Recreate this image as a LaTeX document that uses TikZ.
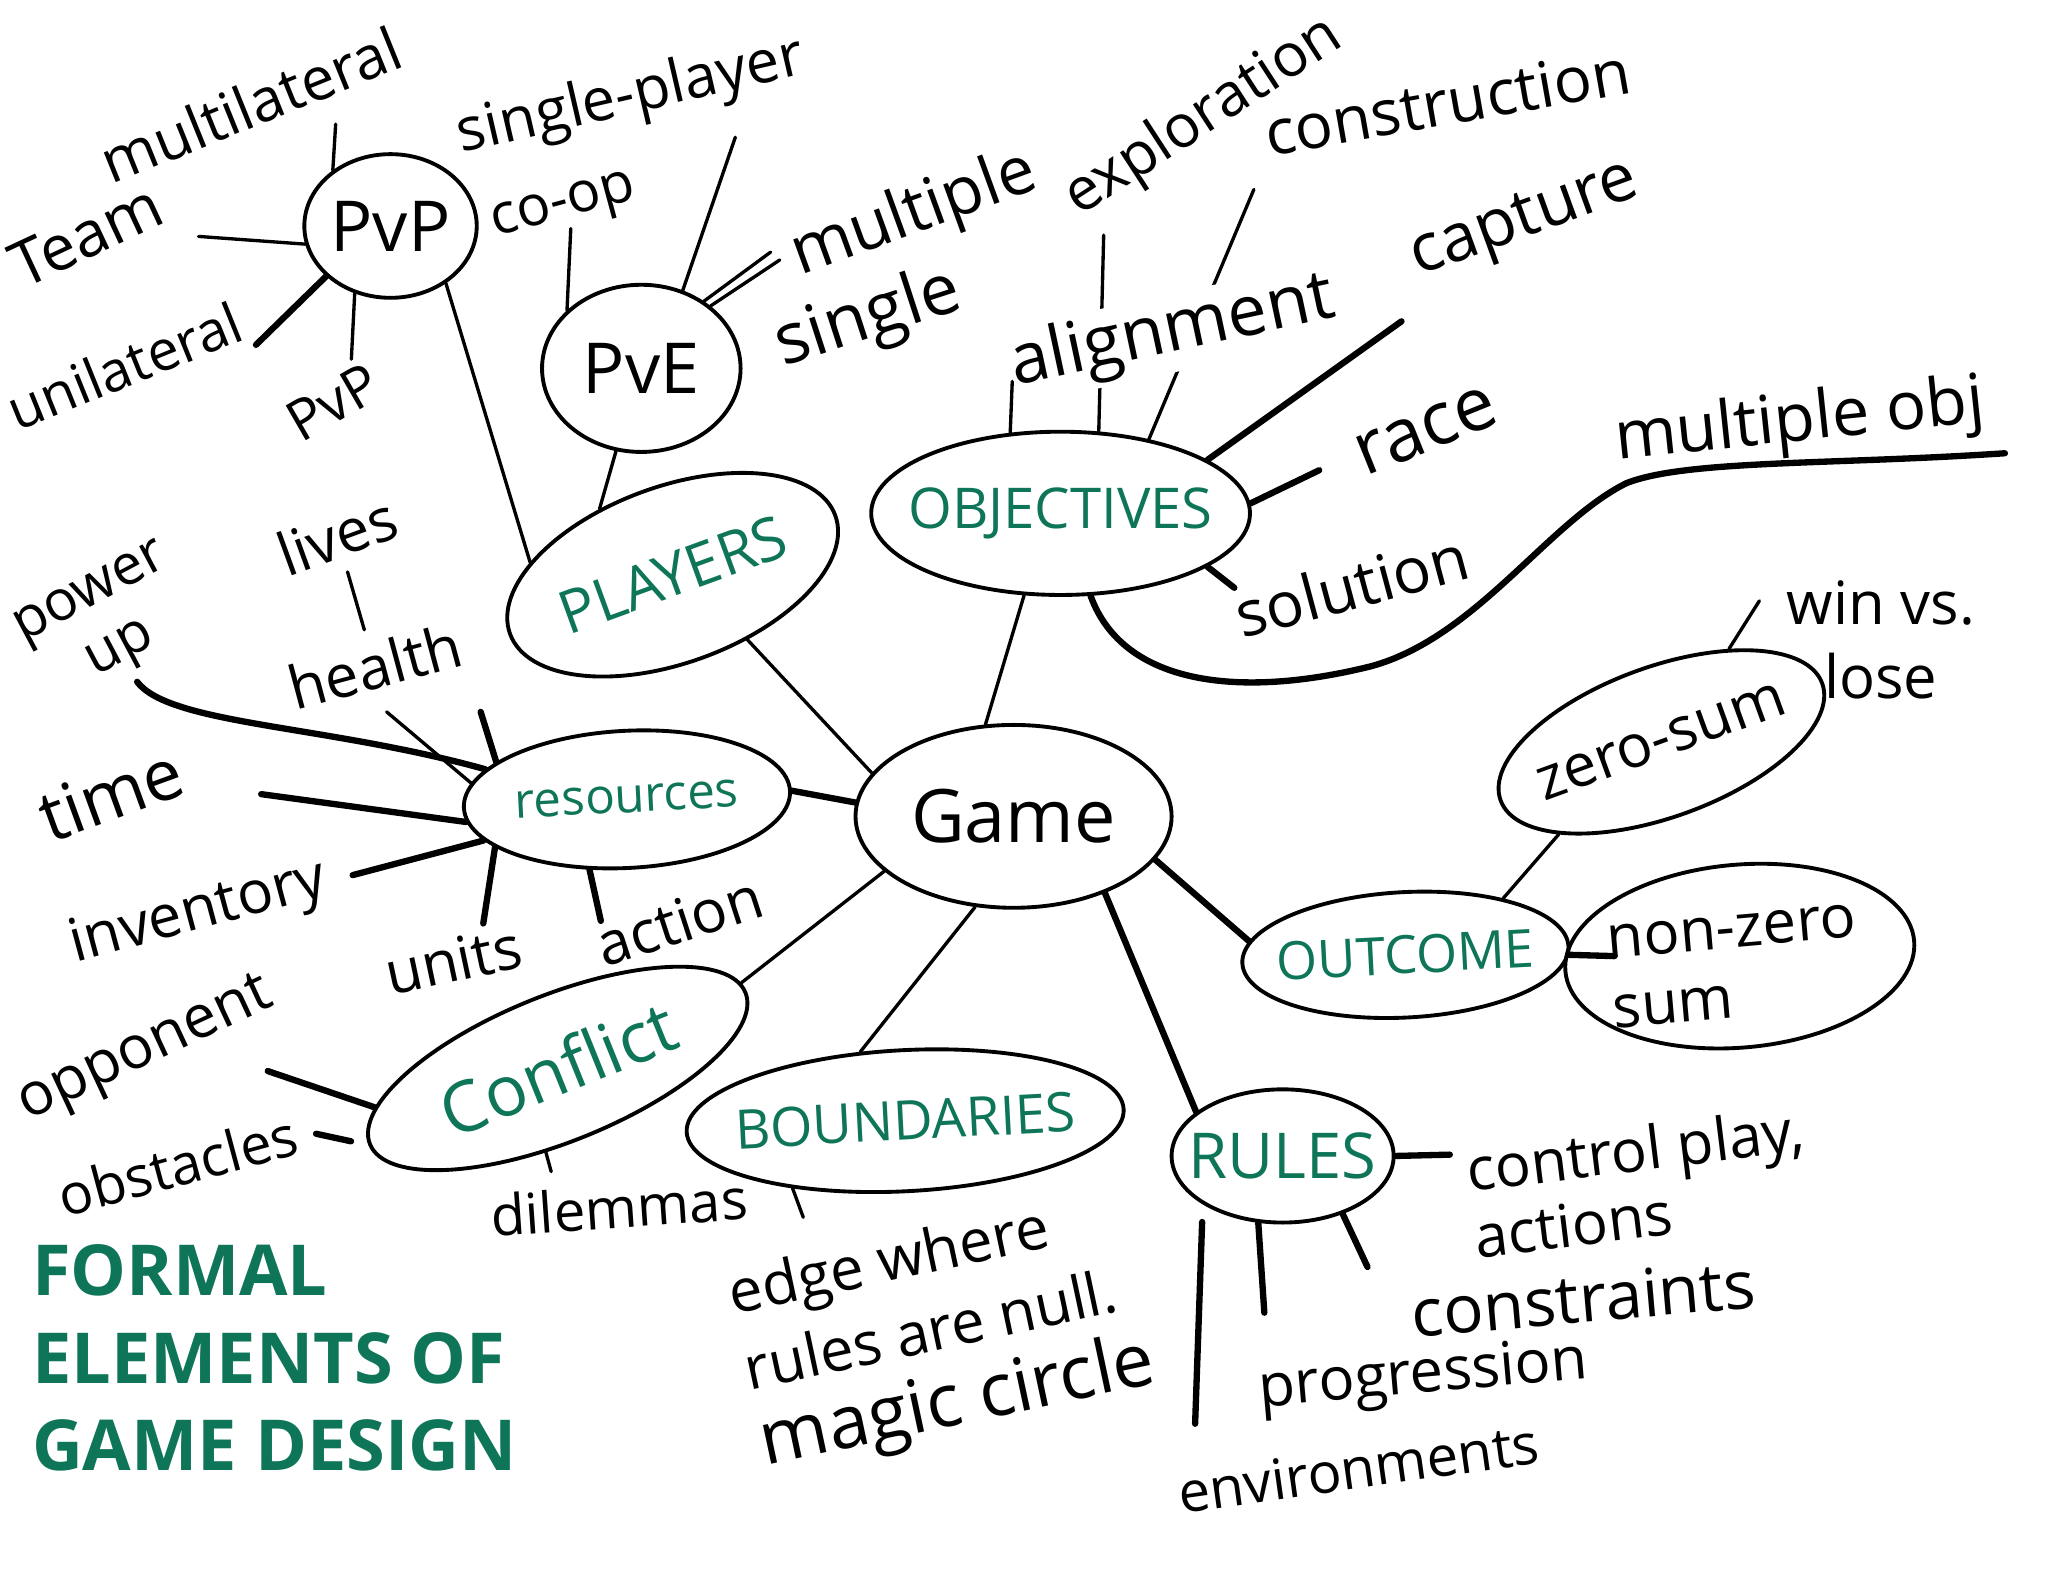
\documentclass[tikz,border=0pt]{standalone}
\usepackage{fontspec}
\setmainfont{Open Sans}
\usetikzlibrary{shapes.geometric, backgrounds}
\definecolor{inkgreen}{RGB}{14,117,88}

\begin{document}
\begin{tikzpicture} [
        x=0.1306mm, y=-0.1306mm,
        blob/.style={draw, ellipse, line width=1.1pt, inner sep=0pt},
        sz/.style 2 args={minimum width=#1*0.1306mm, minimum height=#2*0.1306mm},
        topic/.style={blob, text=inkgreen, font=\fontsize{#1}{#1}\selectfont},
        leaf/.style={inner sep=1pt, font=\fontsize{#1}{#1}\selectfont},
        leaf/.default=17,
        link/.style={line width=0.95pt, line cap=round},
        heavy/.style={line width=1.8pt, line cap=round} ]
    \useasboundingbox (0,0) rectangle (1568,1214);

    % hubs
    \node[blob, sz={242}{140}, font=\fontsize{21}{21}\selectfont] (game) at (776,625) {\makebox[0pt]{Game}};
    \node[topic=17, sz={265}{135}, rotate=20] (players) at (515,440) {\makebox[0pt]{PLAYERS}};
    \node[topic=16, sz={290}{125}] (objectives) at (812,393) {\makebox[0pt]{OBJECTIVES}};
    \node[topic=14, sz={250}{105}, rotate=3] (resources) at (480,612) {\makebox[0pt]{resources}};
    \node[topic=20, sz={310}{112}, rotate=22] (conflict) at (427,818) {\makebox[0pt]{Conflict}};
    \node[topic=15.5, sz={335}{108}, rotate=3] (boundaries) at (693,858) {\makebox[0pt]{BOUNDARIES}};
    \node[topic=18, sz={170}{102}] (rules) at (982,885) {\makebox[0pt]{RULES}};
    \node[topic=15, sz={250}{96}, rotate=3] (outcome) at (1076,731) {\makebox[0pt]{OUTCOME}};
    \node[blob, sz={262}{115}, rotate=20, font=\fontsize{17}{17}\selectfont] (zerosum) at (1272,568) {\makebox[0pt]{zero-sum}};
    \node[blob, sz={268}{140}, rotate=5] (nonzero) at (1332,732) {};
    \node[leaf, rotate=5, align=left, font=\fontsize{17}{20}\selectfont] (nonzero-txt) at (1328,740) {non-zero\\sum};
    \node[blob, sz={132}{110}, font=\fontsize{20}{20}\selectfont] (pvp) at (299,173) {\makebox[0pt]{PvP}};
    \node[blob, sz={152}{128}, font=\fontsize{20}{20}\selectfont] (pve) at (491,282) {\makebox[0pt]{PvE}};

    % leaves
    \node[leaf, rotate=22] (multilateral) at (192,80) {multilateral};
    \node[leaf=18, rotate=25] (team) at (66,180) {Team};
    \node[leaf=16, rotate=22] (unilateral) at (95,280) {unilateral};
    \node[leaf=16, rotate=30] (pvpleaf) at (255,308) {PvP};
    \node[leaf, rotate=13] (singleplayer) at (483,75) {single-player};
    \node[leaf=16, rotate=15] (coop) at (432,160) {co-op};
    \node[leaf=19, rotate=20] (multiple) at (700,165) {multiple};
    \node[leaf=20, rotate=18] (single) at (665,245) {single};
    \node[leaf, rotate=33] (exploration) at (922,90) {exploration};
    \node[leaf=18, rotate=10] (construction) at (1108,78) {construction};
    \node[leaf=19, rotate=20] (capture) at (1168,170) {capture};
    \node[leaf=20, rotate=12, fill=white] (alignment) at (898,255) {alignment};
    \node[leaf=21, rotate=22] (race) at (1092,330) {race};
    \node[leaf=19, rotate=6] (multobj) at (1378,324) {multiple obj};
    \node[leaf=18, rotate=15] (solution) at (1035,448) {solution};
    \node[leaf, align=center] (winlose) at (1440,490) {win vs.\\[4pt]lose};
    \node[leaf, rotate=20] (lives) at (258,410) {lives};
    \node[leaf, rotate=15] (health) at (287,510) {health};
    \node[leaf=16, rotate=28, align=center] (powerup) at (82,478) {power\\[2pt]up};
    \node[leaf=20, rotate=20] (time) at (85,608) {time};
    \node[leaf, rotate=15] (inventory) at (152,700) {inventory};
    \node[leaf, rotate=12] (units) at (347,735) {units};
    \node[leaf, rotate=18] (action) at (520,705) {action};
    \node[leaf, rotate=25] (opponent) at (112,805) {opponent};
    \node[leaf=16, rotate=15] (obstacles) at (136,892) {obstacles};
    \node[leaf=16, rotate=4] (dilemmas) at (474,924) {dilemmas};
    \node[leaf, rotate=12, align=left, font=\fontsize{17}{22}\selectfont] (edge) at (722,1022)
        {edge where\\rules are null.\\{\fontsize{21}{21}\selectfont magic circle}};
    \node[leaf, rotate=7, align=left, font=\fontsize{17}{19}\selectfont] (control) at (1255,905) {control play,\\actions};
    \node[leaf=19, rotate=5] (constraints) at (1212,994) {constraints};
    \node[leaf, rotate=5] (progression) at (1090,1055) {progression};
    \node[leaf=16, rotate=8] (environments) at (1040,1124) {environments};

    \node[anchor=north west, align=left, inner sep=0pt, text=inkgreen,
          font=\bfseries\fontsize{20}{25}\selectfont] (title) at (24,952) {FORMAL\\ELEMENTS OF\\GAME DESIGN};

    % free ends of the spokes
    \coordinate (ml-end) at (257,95);
    \coordinate (team-end) at (152,181);
    \coordinate (uni-end) at (196,264);
    \coordinate (pvp2-end) at (269,275);
    \coordinate (coop-end) at (437,175);
    \coordinate (sp-end) at (563,105);
    \coordinate (mu-end-a) at (590,193);
    \coordinate (mu-end-b) at (597,199);
    \coordinate (al-end) at (775,292);
    \coordinate (ex-end) at (845,180);
    \coordinate (co-end) at (960,145);
    \coordinate (cap-end) at (1073,246);
    \coordinate (race-end) at (1010,360);
    \coordinate (sol-end) at (945,450);
    \coordinate (mo-end) at (1535,347);
    \coordinate (wl-end) at (1347,460);
    \coordinate (nz-end) at (1236,732);
    \coordinate (pu-end) at (105,522);
    \coordinate (he-end) at (296,545);
    \coordinate (he-end2) at (368,545);
    \coordinate (ti-end) at (200,608);
    \coordinate (in-end) at (270,670);
    \coordinate (un-end) at (370,707);
    \coordinate (ac-end) at (460,705);
    \coordinate (op-end) at (205,820);
    \coordinate (ob-end) at (242,868);
    \coordinate (di-end) at (422,897);
    \coordinate (ed-end) at (615,932);
    \coordinate (cp-end) at (1110,884);
    \coordinate (cn-end) at (1047,970);
    \coordinate (pr-end) at (968,1005);
    \coordinate (en-end) at (915,1090);

    % game to the topics
    \draw[link] (game.163) -- (players.-61);
    \draw[link] (game.107) -- (objectives.246);
    \draw[heavy] (game.175) -- (resources.0);
    \draw[link] (game.203) -- (conflict.3);
    \draw[link] (game.247) -- (boundaries.120);
    \draw[heavy] (game.-40) -- (rules.153);
    \draw[heavy] (game.-17) -- (outcome.172);

    % players
    \draw[link] (pvp.-46) -- (players.155);
    \draw[link] (pve.253) -- (players.118);
    \draw[link] (pvp.136) -- (ml-end);
    \draw[link] (pvp.192) -- (team-end);
    \draw[heavy] (pvp.218) -- (uni-end);
    \draw[link] (pvp.242) -- (pvp2-end);
    \draw[link] (pve.142) -- (coop-end);
    \draw[link] (pve.62) -- (sp-end);
    \draw[link] (pve.47) -- (mu-end-a);
    \draw[link] (pve.42) -- (mu-end-b);

    % objectives
    \draw[link] (objectives.122) -- (al-end);
    \begin{scope}[on background layer]
        \draw[link] (objectives.65) -- (ex-end);
        \draw[link] (objectives.40) -- (co-end);
    \end{scope}
    \draw[heavy] (objectives.20) -- (cap-end);
    \draw[heavy] (objectives.3) -- (race-end);
    \draw[heavy] (objectives.-20) -- (sol-end);
    \draw[heavy] (objectives.-70) .. controls (860,525) and (950,535) .. (1050,510)
        .. controls (1130,488) and (1185,400) .. (1245,370)
        .. controls (1290,352) and (1400,356) .. (mo-end);

    % resources
    \draw[heavy] (resources.165) .. controls (250,555) and (130,555) .. (pu-end);
    \draw[link] (resources.171) -- (he-end);
    \draw[heavy] (resources.161) -- (he-end2);
    \draw[link, shorten >=3pt, shorten <=3pt] (lives) -- (health);
    \draw[heavy] (resources.185) -- (ti-end);
    \draw[heavy] (resources.193) -- (in-end);
    \draw[heavy] (resources.197) -- (un-end);
    \draw[heavy] (resources.239) -- (ac-end);

    % conflict, boundaries
    \draw[heavy] (conflict.170) -- (op-end);
    \draw[heavy, shorten <=5pt] (conflict.180) -- (ob-end);
    \draw[link] (conflict.240) -- (di-end);
    \draw[link] (boundaries.208) -- (ed-end);

    % rules
    \draw[heavy] (rules.0) -- (cp-end);
    \draw[heavy] (rules.-44) -- (cn-end);
    \draw[heavy] (rules.250) -- (pr-end);
    \draw[heavy, shorten <=5pt] (rules.south west) -- (en-end);

    % outcome
    \draw[link] (outcome.27) -- (zerosum.202);
    \draw[heavy] (outcome.-3) -- (nz-end);
    \draw[link] (zerosum.34) -- (wl-end);
\end{tikzpicture}
\end{document}
